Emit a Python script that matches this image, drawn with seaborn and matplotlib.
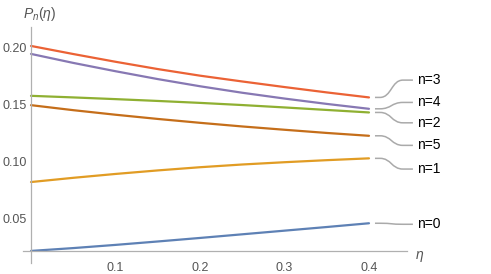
import pandas as pd
import matplotlib
matplotlib.use('Agg')
import matplotlib.pyplot as plt
import seaborn as sns
from matplotlib.path import Path
from matplotlib.patches import PathPatch

# valores
eta = [0.0, 0.05, 0.1, 0.15, 0.2, 0.25, 0.3, 0.35, 0.4]
p0 = [0.0211, 0.0236, 0.0264, 0.0294, 0.0325, 0.0357, 0.0389, 0.0421, 0.0454]
p1 = [0.0816, 0.0853, 0.0887, 0.0918, 0.0946, 0.0970, 0.0990, 0.1008, 0.1024]
p2 = [0.1573, 0.1559, 0.1544, 0.1528, 0.1511, 0.1492, 0.1471, 0.1449, 0.1427]
p3 = [0.2011, 0.1940, 0.1872, 0.1808, 0.1750, 0.1699, 0.1650, 0.1603, 0.1559]
p4 = [0.1941, 0.1862, 0.1789, 0.1720, 0.1657, 0.1600, 0.1549, 0.1502, 0.1459]
p5 = [0.1491, 0.1447, 0.1407, 0.1370, 0.1336, 0.1304, 0.1275, 0.1247, 0.1222]
series = {'n=0': p0, 'n=1': p1, 'n=2': p2, 'n=3': p3, 'n=4': p4, 'n=5': p5}
cores = ['#5E81B5', '#E19C24', '#8FB032', '#EB6235', '#8778B3', '#C56E1A']
x_ticks = [0.1, 0.2, 0.3, 0.4]
y_ticks = [0.05, 0.10, 0.15, 0.20]

# posicao vertical dos rotulos (callouts) a direita
rotulo_y = {'n=3': 0.1711, 'n=4': 0.1515, 'n=2': 0.1336,
            'n=5': 0.1138, 'n=1': 0.0930, 'n=0': 0.0445}

sns.set_style('white')
plt.rcParams['font.family'] = ['Liberation Sans', 'DejaVu Sans']
plt.rcParams['mathtext.fontset'] = 'custom'
plt.rcParams['mathtext.it'] = 'Liberation Sans:italic'
plt.rcParams['mathtext.rm'] = 'Liberation Sans'

df = pd.DataFrame([(e, nome, v) for nome, vals in series.items()
                   for e, v in zip(eta, vals)], columns=['eta', 'n', 'P'])

fig = plt.figure(figsize=(4.91, 2.74), dpi=100)
ax = fig.add_axes([23 / 491, 11 / 274, 384 / 491, 236.3 / 274])
sns.lineplot(data=df, x='eta', y='P', hue='n', palette=cores,
             linewidth=1.6, legend=False, ax=ax)

ax.set_xlim(-0.0095, 0.445)
ax.set_ylim(0.0105, 0.218)
cinza = '#b0b0b0'
for lado in ['top', 'right']:
    ax.spines[lado].set_visible(False)
ax.spines['left'].set_position(('data', 0))
ax.spines['bottom'].set_position(('data', p0[0]))
for lado in ['left', 'bottom']:
    ax.spines[lado].set_color(cinza)
    ax.spines[lado].set_linewidth(0.9)

ax.set_xticks(x_ticks)
ax.set_xticklabels([f'{t:.1f}' for t in x_ticks])
ax.set_yticks(y_ticks)
ax.set_yticklabels([f'{t:.2f}' for t in y_ticks])
ax.set_xticks([i * 0.02 for i in range(1, 22)], minor=True)
ax.set_yticks([0.03 + i * 0.01 for i in range(19)], minor=True)
ax.tick_params(which='both', direction='in', color=cinza, labelcolor='#555555',
               labelsize=9, width=0.8)
ax.tick_params(which='major', length=4)
ax.tick_params(which='minor', length=2.5)
ax.tick_params(axis='x', pad=8)
ax.tick_params(axis='y', pad=3)
ax.set_xlabel('')
ax.set_ylabel('')

fig.text(40 / 491, 1 - 14 / 274, r'$P_n(\eta)$', ha='center', va='center',
         fontsize=10, color='#555555')
fig.text(420 / 491, 1 - 256 / 274, r'$\eta$', ha='center', va='center',
         fontsize=10, color='#555555')

# callouts
x0, x1, x2, x3 = 0.4071, 0.413, 0.4402, 0.452
for nome, vals in series.items():
    y0 = vals[-1]
    yl = rotulo_y[nome]
    xm = (x1 + x2) / 2
    verts = [(x0, y0), (x1, y0), (xm, y0), (xm, yl), (x2, yl), (x3, yl)]
    codes = [Path.MOVETO, Path.LINETO, Path.CURVE4, Path.CURVE4, Path.CURVE4,
             Path.LINETO]
    ax.add_patch(PathPatch(Path(verts, codes), fill=False, edgecolor='#aaaaaa',
                           linewidth=1.1, clip_on=False))
    ax.text(0.4568, yl, nome, ha='left', va='center', fontsize=10,
            color='black', clip_on=False)

fig.savefig('out.png', dpi=100)
